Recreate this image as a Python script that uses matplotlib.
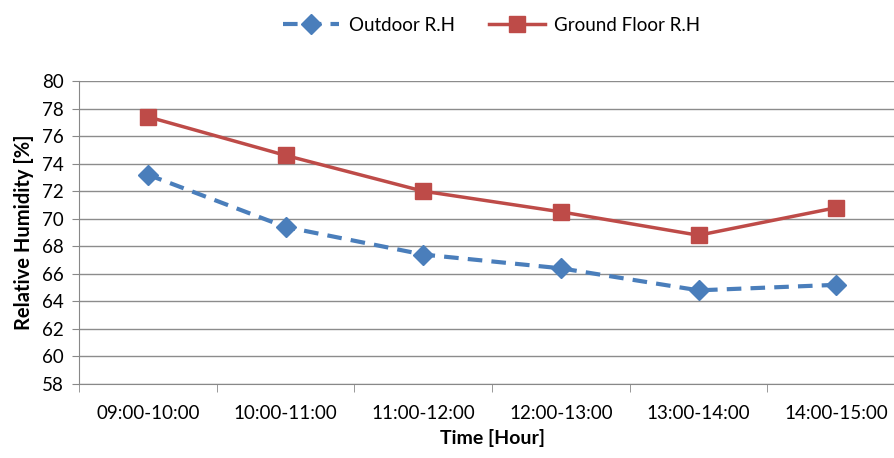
import matplotlib
matplotlib.use("Agg")
from matplotlib import pyplot as plt

plt.rcParams['font.family'] = ['Lato', 'DejaVu Sans']

hours = ["09:00-10:00", "10:00-11:00", "11:00-12:00",
         "12:00-13:00", "13:00-14:00", "14:00-15:00"]
outdoor_rh = [73.2, 69.4, 67.4, 66.4, 64.8, 65.2]
ground_rh = [77.4, 74.6, 72.0, 70.5, 68.8, 70.8]

fig = plt.figure(figsize=(8.94, 4.58), dpi=100)
ax = fig.add_axes([79 / 894, 1 - 384 / 458, 826 / 894, 303 / 458])

x = list(range(len(hours)))
ax.plot(x, outdoor_rh, color="#4a7ebb", lw=3, ls=(0, (3.5, 2.2)),
        marker="D", ms=10, label="Outdoor R.H", zorder=3)
ax.plot(x, ground_rh, color="#be4b48", lw=2.5,
        marker="s", ms=11, label="Ground Floor R.H", zorder=3)

ax.set_xlim(-0.5, len(hours) - 0.5)
ax.set_ylim(58, 80)
ax.set_yticks(range(58, 81, 2))
ax.set_xticks(x)
ax.set_xticklabels(hours)
ax.set_xticks([i - 0.5 for i in range(len(hours) + 1)], minor=True)
ax.tick_params(axis="x", which="major", length=0, pad=15, labelsize=13.5)
ax.tick_params(axis="x", which="minor", length=6, color="#888888")
ax.tick_params(axis="y", length=5, color="#888888", labelsize=13.5, pad=6)
ax.grid(axis="y", color="#8c8c8c", lw=1)
ax.set_axisbelow(True)
for s in ["top", "right"]:
    ax.spines[s].set_visible(False)
for s in ["left", "bottom"]:
    ax.spines[s].set_color("#888888")

ax.set_ylabel("Relative Humidity [%]", fontsize=14.5, fontweight="bold", labelpad=6)
ax.set_xlabel("Time [Hour]", fontsize=14, fontweight="bold", labelpad=5)

fig.legend(loc="upper center", bbox_to_anchor=(0.55, 1.0), ncol=2, frameon=False,
           fontsize=13.5, handlelength=3.0, columnspacing=1.8, handletextpad=0.5)

fig.savefig("out.png", dpi=100)
